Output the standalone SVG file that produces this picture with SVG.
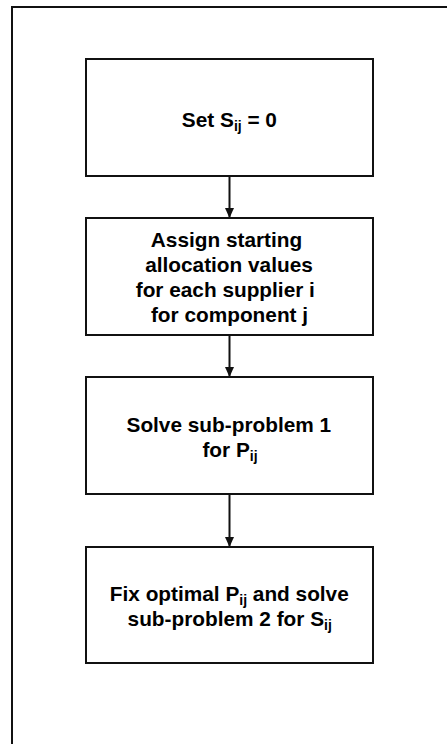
<svg xmlns="http://www.w3.org/2000/svg" width="447" height="744" viewBox="0 0 447 744">
<style>
.box{fill:#fff;stroke:#111;stroke-width:2}
.frame{fill:none;stroke:#111;stroke-width:2}
.lbl{font-family:"Liberation Sans",Arial,sans-serif;font-weight:bold;font-size:20.8px;fill:#000;text-anchor:middle}
.sub{font-size:14px}
.conn{stroke:#111;stroke-width:2;fill:none}
</style>
<defs>
<marker id="ah" markerWidth="10" markerHeight="9" refX="10" refY="4.5" orient="auto" markerUnits="userSpaceOnUse">
<path d="M0,0 L10,4.5 L0,9 Z" fill="#111"/>
</marker>
</defs>
<rect class="frame" x="12" y="7" width="450" height="760"/>
<g id="connectors">
<line class="conn" x1="229.5" y1="176" x2="229.5" y2="218" marker-end="url(#ah)"/>
<line class="conn" x1="229.5" y1="335" x2="229.5" y2="377" marker-end="url(#ah)"/>
<line class="conn" x1="229.5" y1="494" x2="229.5" y2="547" marker-end="url(#ah)"/>
</g>
<g id="n1">
<rect class="box" x="86" y="59" width="287" height="117"/>
<text class="lbl" x="229.4" y="127">Set S<tspan class="sub" dy="4">ij</tspan><tspan dy="-4"> = 0</tspan></text>
</g>
<g id="n2">
<rect class="box" x="86" y="218" width="287" height="117"/>
<text class="lbl" x="226.5" y="247">Assign starting</text>
<text class="lbl" x="229" y="272">allocation values</text>
<text class="lbl" x="225.3" y="297">for each supplier i</text>
<text class="lbl" x="229.5" y="322">for component j</text>
</g>
<g id="n3">
<rect class="box" x="86" y="377" width="287" height="117"/>
<text class="lbl" x="228.8" y="432">Solve sub-problem 1</text>
<text class="lbl" x="230" y="457">for P<tspan class="sub" dy="4">ij</tspan></text>
</g>
<g id="n4">
<rect class="box" x="86" y="547" width="287" height="116"/>
<text class="lbl" x="229.3" y="601">Fix optimal P<tspan class="sub" dy="4">ij</tspan><tspan dy="-4"> and solve</tspan></text>
<text class="lbl" x="229.7" y="626">sub-problem 2 for S<tspan class="sub" dy="4">ij</tspan></text>
</g>
</svg>
